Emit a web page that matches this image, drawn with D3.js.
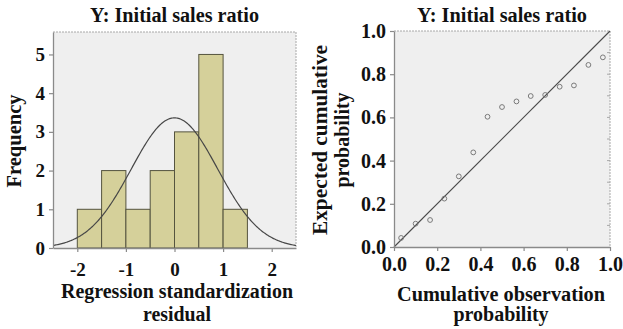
<!DOCTYPE html>
<html>
<head>
<meta charset="utf-8">
<script src="https://cdn.jsdelivr.net/npm/d3@7/dist/d3.min.js"></script>
<style>
  html, body { margin: 0; padding: 0; background: #fff; }
  svg { display: block; }
  text { font-family: "Liberation Serif", "Times New Roman", serif; font-weight: bold; fill: #111; }
</style>
</head>
<body>
<svg id="chart" width="623" height="329"></svg>
<script>
// Histogram of regression standardized residuals
const binStarts = [-2, -1.5, -1, -0.5, 0, 0.5, 1];
const binWidth = 0.5;
const binCounts = [1, 2, 1, 2, 3, 5, 1];
const histXTicks = [-2, -1, 0, 1, 2];
const histYTicks = [0, 1, 2, 3, 4, 5];

// Fitted normal curve parameters
const residualMean = 0;
const residualSD = 0.89;

// Normal P-P plot
const observedProb = [0.033, 0.1, 0.167, 0.233, 0.3, 0.367, 0.433, 0.5, 0.567, 0.633, 0.7, 0.767, 0.833, 0.9, 0.967];
const expectedProb = [0.042, 0.108, 0.125, 0.224, 0.327, 0.438, 0.603, 0.648, 0.674, 0.699, 0.704, 0.742, 0.748, 0.843, 0.878];
const ppTicks = [0, 0.2, 0.4, 0.6, 0.8, 1.0];

const titleText = "Y: Initial sales ratio";

const svg = d3.select("#chart");
const plotBg = "#efefef";
const axisColor = "#8a8a8a";
const borderColor = "#a8a8a8";
const fontStack = '"Liberation Serif", "Times New Roman", serif';

function fitWidth(sel, width) {
  sel.attr("textLength", width).attr("lengthAdjust", "spacingAndGlyphs");
}

function styleAxis(g, fontSize) {
  g.select(".domain").attr("stroke", axisColor).attr("stroke-width", 1.3);
  g.selectAll(".tick line").attr("stroke", axisColor).attr("stroke-width", 1.2);
  g.selectAll(".tick text")
    .attr("fill", "#111")
    .style("font-family", fontStack)
    .style("font-weight", "bold")
    .style("font-size", fontSize + "px");
}

const hyphenInt = d => (d < 0 ? "-" : "") + Math.abs(d);

// ---------- Left panel: histogram ----------
{
  const L = 53, R = 296, T = 32, B = 248;
  const x = d3.scaleLinear().domain([-2.5, 2.5]).range([L, R]);
  const y = d3.scaleLinear().domain([0, 5.58]).range([B, T]);
  const g = svg.append("g");

  g.append("rect").attr("x", L).attr("y", T).attr("width", R - L).attr("height", B - T).attr("fill", plotBg);
  g.append("path")
    .attr("d", `M${L},${T}H${R}V${B}`)
    .attr("fill", "none").attr("stroke", borderColor).attr("stroke-width", 1).attr("stroke-dasharray", "2,1");

  g.selectAll("rect.bar").data(binStarts).enter().append("rect")
    .attr("class", "bar")
    .attr("x", d => x(d))
    .attr("width", d => x(d + binWidth) - x(d))
    .attr("y", (d, i) => y(binCounts[i]))
    .attr("height", (d, i) => y(0) - y(binCounts[i]))
    .attr("fill", "#d5d09a")
    .attr("stroke", "#55543f")
    .attr("stroke-width", 1);

  // normal density scaled to counts
  const n = d3.sum(binCounts);
  const dens = v => n * binWidth * Math.exp(-0.5 * ((v - residualMean) / residualSD) ** 2) / (residualSD * Math.sqrt(2 * Math.PI));
  const curveXs = d3.range(-2.5, 2.5001, 0.02);
  g.append("path")
    .datum(curveXs)
    .attr("d", d3.line().x(d => x(d)).y(d => y(dens(d))))
    .attr("fill", "none").attr("stroke", "#474747").attr("stroke-width", 1.2);

  const ax = g.append("g").attr("transform", `translate(0,${B})`)
    .call(d3.axisBottom(x).tickValues(histXTicks).tickSize(4).tickSizeOuter(0).tickFormat(hyphenInt));
  styleAxis(ax, 19);
  ax.selectAll(".tick text").attr("y", 0).attr("dy", 0).attr("transform", "translate(0,28)");

  const ay = g.append("g").attr("transform", `translate(${L},0)`)
    .call(d3.axisLeft(y).tickValues(histYTicks).tickSize(4).tickSizeOuter(0).tickPadding(4).tickFormat(hyphenInt));
  styleAxis(ay, 19);

  fitWidth(g.append("text").attr("x", (L + R) / 2).attr("y", 22).attr("text-anchor", "middle")
    .style("font-size", "20px").text(titleText), 169);
  fitWidth(g.append("text").attr("transform", `translate(21,${(T + B) / 2 + 1}) rotate(-90)`).attr("text-anchor", "middle")
    .style("font-size", "20px").text("Frequency"), 93);
  fitWidth(g.append("text").attr("x", 177).attr("y", 298).attr("text-anchor", "middle")
    .style("font-size", "20px").text("Regression standardization"), 232);
  fitWidth(g.append("text").attr("x", 177).attr("y", 321).attr("text-anchor", "middle")
    .style("font-size", "20px").text("residual"), 68);
}

// ---------- Right panel: normal P-P plot ----------
{
  const L = 394, R = 610, T = 31, B = 247;
  const x = d3.scaleLinear().domain([0, 1]).range([L, R]);
  const y = d3.scaleLinear().domain([0, 1]).range([B, T]);
  const g = svg.append("g");

  g.append("rect").attr("x", L).attr("y", T).attr("width", R - L).attr("height", B - T).attr("fill", plotBg);
  g.append("path")
    .attr("d", `M${L},${T}H${R}V${B}`)
    .attr("fill", "none").attr("stroke", borderColor).attr("stroke-width", 1).attr("stroke-dasharray", "2,1");

  // inward ticks along the right edge
  g.selectAll("line.rtick").data(d3.range(1, 10).map(v => v / 10)).enter().append("line")
    .attr("class", "rtick")
    .attr("x1", R).attr("x2", R - 3)
    .attr("y1", d => y(d)).attr("y2", d => y(d))
    .attr("stroke", borderColor).attr("stroke-width", 1);

  // reference diagonal
  g.append("line")
    .attr("x1", x(0)).attr("y1", y(0)).attr("x2", x(1)).attr("y2", y(1))
    .attr("stroke", "#4a4a4a").attr("stroke-width", 1.1);

  g.selectAll("circle.pt").data(observedProb).enter().append("circle")
    .attr("class", "pt")
    .attr("cx", d => x(d))
    .attr("cy", (d, i) => y(expectedProb[i]))
    .attr("r", 2.4)
    .attr("fill", "none").attr("stroke", "#7a7a7a").attr("stroke-width", 1);

  const ax = g.append("g").attr("transform", `translate(0,${B})`)
    .call(d3.axisBottom(x).tickValues(ppTicks).tickSize(4).tickSizeOuter(0).tickFormat(d3.format(".1f")));
  styleAxis(ax, 20);
  ax.selectAll(".tick text").attr("y", 0).attr("dy", 0).attr("transform", "translate(0,24)");

  const ay = g.append("g").attr("transform", `translate(${L},0)`)
    .call(d3.axisLeft(y).tickValues(ppTicks).tickSize(4).tickSizeOuter(0).tickPadding(4).tickFormat(d3.format(".1f")));
  styleAxis(ay, 20);

  fitWidth(g.append("text").attr("x", (L + R) / 2).attr("y", 22).attr("text-anchor", "middle")
    .style("font-size", "20px").text(titleText), 170);
  fitWidth(g.append("text").attr("transform", `translate(327,${(T + B) / 2 + 1}) rotate(-90)`).attr("text-anchor", "middle")
    .style("font-size", "20px").text("Expected cumulative"), 190);
  g.append("text").attr("transform", `translate(349,${(T + B) / 2 + 1}) rotate(-90)`).attr("text-anchor", "middle")
    .style("font-size", "20px").text("probability");
  fitWidth(g.append("text").attr("x", 501).attr("y", 301).attr("text-anchor", "middle")
    .style("font-size", "20px").text("Cumulative observation"), 208);
  g.append("text").attr("x", 501).attr("y", 321).attr("text-anchor", "middle")
    .style("font-size", "20px").text("probability");
}
</script>
</body>
</html>
